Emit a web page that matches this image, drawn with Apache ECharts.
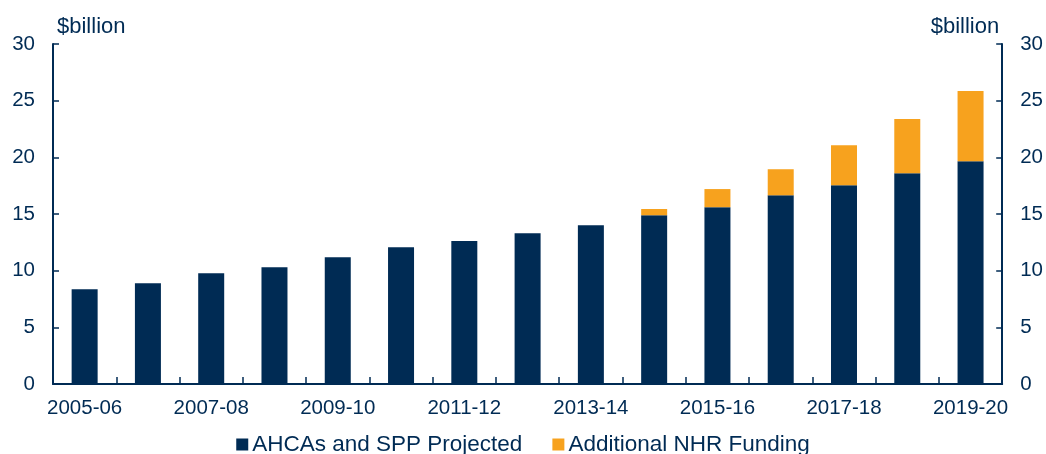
<!DOCTYPE html>
<html>
<head>
<meta charset="utf-8">
<script src="https://cdn.jsdelivr.net/npm/echarts@6/dist/echarts.min.js"></script>
<style>
  html, body { margin: 0; padding: 0; background: #fff; }
  #main { width: 1046px; height: 454px; }
</style>
</head>
<body>
<div id="main"></div>
<script>
// 财年
const years = ['2005-06', '2006-07', '2007-08', '2008-09', '2009-10', '2010-11', '2011-12',
  '2012-13', '2013-14', '2014-15', '2015-16', '2016-17', '2017-18', '2018-19', '2019-20'];

// AHCAs and SPP Projected
const ahcaValues = [8.35, 8.88, 9.77, 10.3, 11.18, 12.06, 12.62, 13.3, 14.0, 14.89, 15.6, 16.65, 17.53, 18.6, 19.65];

// Additional NHR Funding
const nhrValues = [0, 0, 0, 0, 0, 0, 0, 0, 0, 0.55, 1.6, 2.3, 3.53, 4.78, 6.21];

const navy = '#002B54';
const orange = '#F7A21E';
const font = 'Liberation Sans, Arial, sans-serif';

const chart = echarts.init(document.getElementById('main'));

// 两侧相同的数值轴
function valueAxis(pos) {
  return {
    type: 'value',
    position: pos,
    min: 0,
    max: 30,
    interval: 5,
    name: '$billion',
    nameLocation: 'end',
    nameGap: 6,
    nameTextStyle: {
      color: navy, fontSize: 22, fontFamily: font,
      align: pos === 'left' ? 'left' : 'right',
      padding: pos === 'left' ? [0, 0, 0, 4] : [0, 3, 0, 0]
    },
    axisLine: { show: true, lineStyle: { color: navy, width: 2 } },
    axisTick: { show: true, inside: true, length: 6, lineStyle: { color: navy, width: 1.5 } },
    axisLabel: { color: navy, fontSize: 20.5, fontFamily: font, margin: 18 },
    splitLine: { show: false }
  };
}

chart.setOption({
  animation: false,
  backgroundColor: '#fff',
  grid: { left: 53, right: 43, top: 44, bottom: 70, containLabel: false },
  legend: {
    bottom: -7,
    left: 'center',
    icon: 'rect',
    itemWidth: 12,
    itemHeight: 12,
    itemGap: 30,
    textStyle: { color: navy, fontSize: 22.5, fontFamily: font, padding: [0, 0, 0, -1] },
    data: ['AHCAs and SPP Projected', 'Additional NHR Funding']
  },
  xAxis: {
    type: 'category',
    data: years,
    axisLine: { lineStyle: { color: navy, width: 2 } },
    axisTick: { show: true, inside: true, length: 7, interval: 0, lineStyle: { color: navy, width: 1.5 } },
    axisLabel: { color: navy, fontSize: 20.5, fontFamily: font, interval: 1, margin: 14 }
  },
  yAxis: [valueAxis('left'), valueAxis('right')],
  series: [
    {
      name: 'AHCAs and SPP Projected',
      type: 'bar',
      stack: 'total',
      barWidth: 26,
      itemStyle: { color: navy },
      data: ahcaValues
    },
    {
      name: 'Additional NHR Funding',
      type: 'bar',
      stack: 'total',
      barWidth: 26,
      itemStyle: { color: orange },
      data: nhrValues
    }
  ]
});
</script>
</body>
</html>
